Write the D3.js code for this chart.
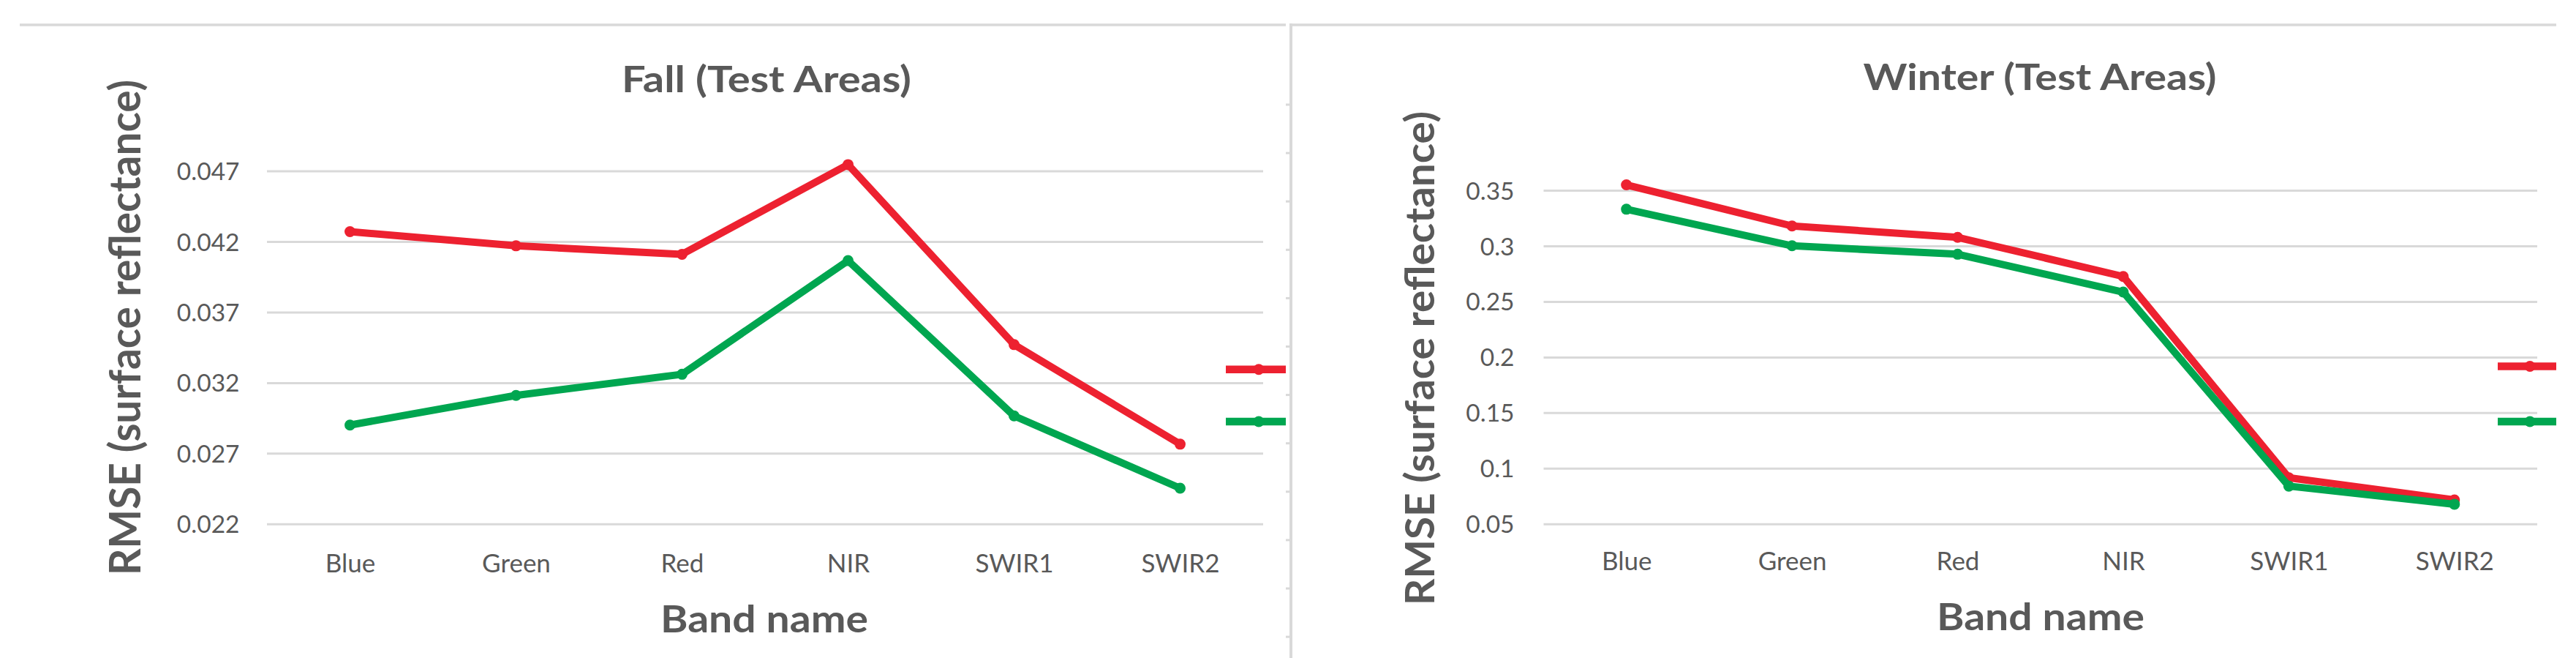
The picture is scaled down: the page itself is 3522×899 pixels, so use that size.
<!DOCTYPE html>
<html>
<head>
<meta charset="utf-8">
<script src="https://cdn.jsdelivr.net/npm/d3@7/dist/d3.min.js"></script>
<style>
  html, body { margin: 0; padding: 0; background: #ffffff; }
  svg { display: block; }
  text { font-family: "Lato", "Open Sans", "Liberation Sans", sans-serif; fill: #595959; }
</style>
</head>
<body>
<svg id="chart" width="3522" height="899"></svg>
<script>
// ---------------- DATA ----------------
const bands = ["Blue", "Green", "Red", "NIR", "SWIR1", "SWIR2"];

const fallRed   = [0.0427, 0.0417, 0.0411, 0.04745, 0.0347, 0.02765];
const fallGreen = [0.0290, 0.0311, 0.0326, 0.04065, 0.02965, 0.02453];
const fallTicks = [0.022, 0.027, 0.032, 0.037, 0.042, 0.047];
const fallTickLabels = ["0.022", "0.027", "0.032", "0.037", "0.042", "0.047"];

const winterRed   = [0.3549, 0.3179, 0.3077, 0.2725, 0.0915, 0.0716];
const winterGreen = [0.3330, 0.3001, 0.2925, 0.2585, 0.0840, 0.0677];
const winterTicks = [0.05, 0.1, 0.15, 0.2, 0.25, 0.3, 0.35];
const winterTickLabels = ["0.05", "0.1", "0.15", "0.2", "0.25", "0.3", "0.35"];

const titles = ["Fall (Test Areas)", "Winter (Test Areas)"];
const xTitle = "Band name";
const yTitle = "RMSE (surface reflectance)";

// ---------------- STYLE / LAYOUT ----------------
const RED = "#ED2130";
const GREEN = "#00A650";
const GRID = "#D9D9D9";

const panels = [
  {
    title: titles[0], red: fallRed, green: fallGreen,
    ticks: fallTicks, tickLabels: fallTickLabels,
    clipX0: 0, clipX1: 1758,
    plotX0: 365, plotX1: 1727, yTop: 233.6, yBot: 715.8,
    titleX: 1048, titleY: 125.5, titleLen: 396,
    xTitleX: 1045, xTitleY: 864, xTitleLen: 284,
    yTitleX: 192, yTitleY: 447.5, yTitleLen: 677, yTitleCap: 42,
    tickRight: 327.5, catY: 782,
    legX0: 1676, legMarkX: 1721, legRedY: 504.7, legGreenY: 576
  },
  {
    title: titles[1], red: winterRed, green: winterGreen,
    ticks: winterTicks, tickLabels: winterTickLabels,
    clipX0: 1763, clipX1: 3495,
    plotX0: 2110.5, plotX1: 3469, yTop: 260, yBot: 715.8,
    titleX: 2789, titleY: 122.5, titleLen: 483,
    xTitleX: 2790, xTitleY: 860.5, xTitleLen: 284,
    yTitleX: 1961, yTitleY: 489.5, yTitleLen: 675, yTitleCap: 40,
    tickRight: 2070.5, catY: 779,
    legX0: 3415, legMarkX: 3459, legRedY: 500.5, legGreenY: 576
  }
];

const svg = d3.select("#chart");
const defs = svg.append("defs");

// frame lines (worksheet chart borders)
svg.append("line").attr("x1", 27).attr("x2", 1758).attr("y1", 34).attr("y2", 34)
  .attr("stroke", GRID).attr("stroke-width", 3.5);
svg.append("line").attr("x1", 1763).attr("x2", 3495).attr("y1", 34).attr("y2", 34)
  .attr("stroke", GRID).attr("stroke-width", 3.5);
svg.append("line").attr("x1", 1765).attr("x2", 1765).attr("y1", 32).attr("y2", 899)
  .attr("stroke", GRID).attr("stroke-width", 4);
// little row stubs left of the divider
svg.selectAll("line.stub").data(d3.range(12)).join("line").attr("class", "stub")
  .attr("x1", 1758).attr("x2", 1763)
  .attr("y1", i => 143 + i * 66.1).attr("y2", i => 143 + i * 66.1)
  .attr("stroke", GRID).attr("stroke-width", 3);

panels.forEach((p, idx) => {
  const clipId = "clip" + idx;
  defs.append("clipPath").attr("id", clipId).append("rect")
    .attr("x", p.clipX0).attr("y", 0).attr("width", p.clipX1 - p.clipX0).attr("height", 899);

  const g = svg.append("g").attr("clip-path", `url(#${clipId})`);

  const x = d3.scalePoint().domain(bands).range([p.plotX0, p.plotX1]).padding(0.5);
  const y = d3.scaleLinear().domain([p.ticks[0], p.ticks[p.ticks.length - 1]]).range([p.yBot, p.yTop]);

  // y axis with gridlines
  const yAxis = d3.axisLeft(y)
    .tickValues(p.ticks)
    .tickFormat((d, i) => p.tickLabels[i])
    .tickSize(-(p.plotX1 - p.plotX0))
    .tickPadding(p.plotX0 - p.tickRight);
  const ya = g.append("g").attr("transform", `translate(${p.plotX0},0)`).call(yAxis);
  ya.select(".domain").remove();
  ya.selectAll(".tick line").attr("stroke", GRID).attr("stroke-width", 3);
  ya.selectAll(".tick text")
    .attr("fill", "#595959")
    .style("font-family", "Lato, 'Open Sans', sans-serif")
    .style("font-size", "33.5px")
    .attr("dy", "0.36em");

  // x axis labels
  const xAxis = d3.axisBottom(x).tickSize(0).tickPadding(0);
  const xa = g.append("g").attr("transform", `translate(0,${p.catY})`).call(xAxis);
  xa.select(".domain").remove();
  xa.selectAll(".tick text")
    .attr("y", 0).attr("dy", 0)
    .attr("fill", "#595959")
    .style("font-family", "Lato, 'Open Sans', sans-serif")
    .style("font-size", "35px");

  // series
  const line = d3.line().x((d, i) => x(bands[i])).y(d => y(d));
  [[p.red, RED], [p.green, GREEN]].forEach(([vals, col]) => {
    g.append("path").datum(vals).attr("d", line)
      .attr("fill", "none").attr("stroke", col).attr("stroke-width", 10)
      .attr("stroke-linejoin", "round");
    g.selectAll(null).data(vals).join("circle")
      .attr("cx", (d, i) => x(bands[i])).attr("cy", d => y(d))
      .attr("r", 7.5).attr("fill", col);
  });

  // legend (text is cut off by the panel edge)
  [[p.legRedY, RED], [p.legGreenY, GREEN]].forEach(([ly, col]) => {
    g.append("line").attr("x1", p.legX0).attr("x2", p.legX0 + 110)
      .attr("y1", ly).attr("y2", ly).attr("stroke", col).attr("stroke-width", 10.5);
    g.append("circle").attr("cx", p.legMarkX).attr("cy", ly).attr("r", 7.5).attr("fill", col);
  });

  // chart title
  g.append("text").text(p.title)
    .attr("x", p.titleX).attr("y", p.titleY)
    .attr("text-anchor", "middle")
    .attr("textLength", p.titleLen).attr("lengthAdjust", "spacingAndGlyphs")
    .style("font-size", "49px").style("font-weight", 700);

  // x axis title
  g.append("text").text(xTitle)
    .attr("x", p.xTitleX).attr("y", p.xTitleY)
    .attr("text-anchor", "middle")
    .attr("textLength", p.xTitleLen).attr("lengthAdjust", "spacingAndGlyphs")
    .style("font-size", "51.6px").style("font-weight", 700);

  // y axis title (rotated, slightly stretched across its height)
  const yFs = 50;
  const sY = p.yTitleCap / (0.7165 * yFs);
  g.append("text").text(yTitle)
    .attr("transform", `translate(${p.yTitleX},${p.yTitleY}) rotate(-90) scale(1,${sY})`)
    .attr("x", 0).attr("y", 0)
    .attr("text-anchor", "middle")
    .attr("textLength", p.yTitleLen).attr("lengthAdjust", "spacingAndGlyphs")
    .style("font-size", yFs + "px").style("font-weight", 700);
});
</script>
</body>
</html>
